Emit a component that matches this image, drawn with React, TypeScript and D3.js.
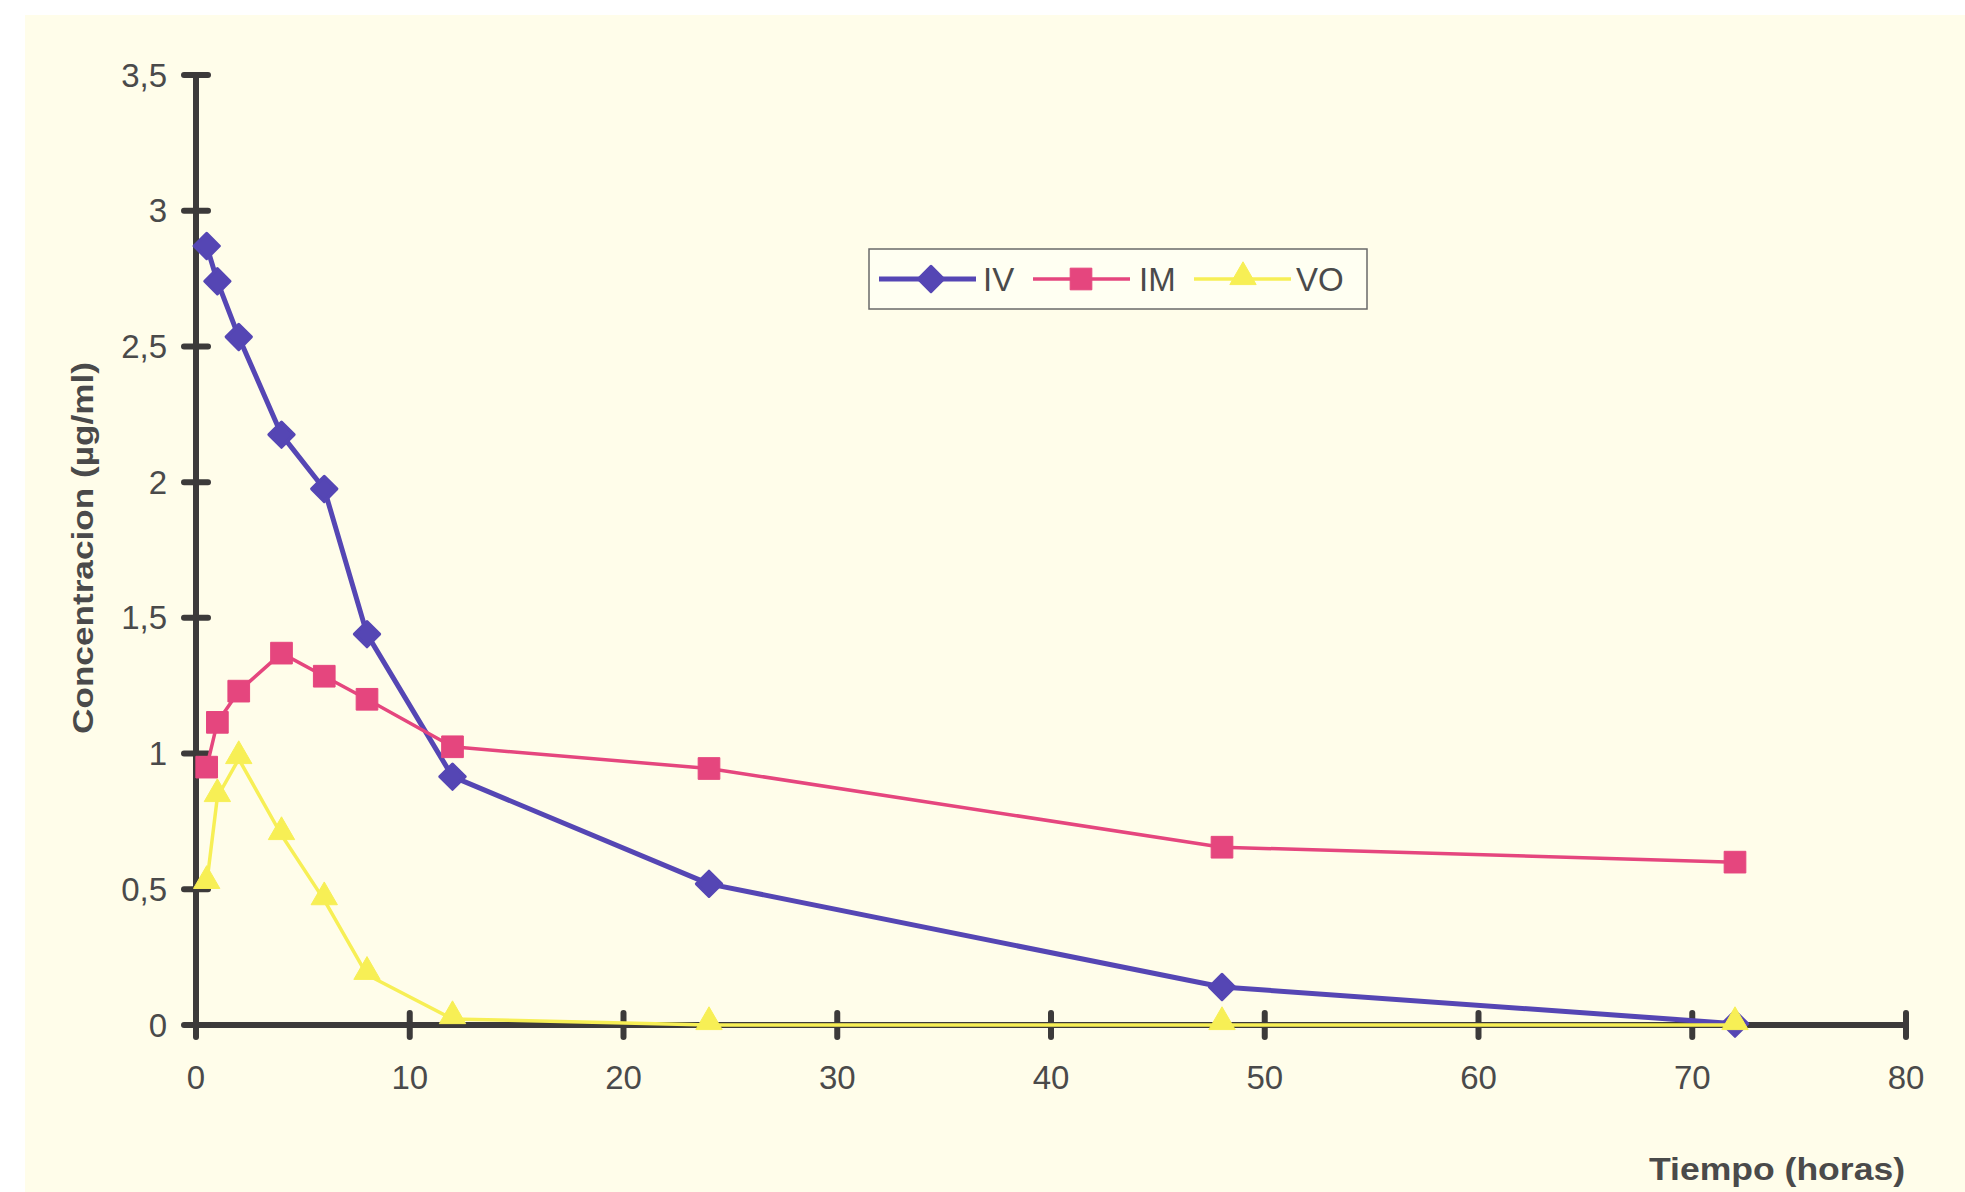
import React from "react";
import * as d3 from "d3";

const times = [0.5, 1, 2, 4, 6, 8, 12, 24, 48, 72];
const ivValues = [2.87, 2.74, 2.535, 2.175, 1.975, 1.44, 0.915, 0.52, 0.14, 0.005];
const imValues = [0.95, 1.115, 1.23, 1.37, 1.285, 1.2, 1.025, 0.945, 0.655, 0.6];
const voValues = [0.52, 0.84, 0.98, 0.7, 0.46, 0.185, 0.022, 0, 0, 0];

const xTicks = [0, 10, 20, 30, 40, 50, 60, 70, 80];
const yTicks = [0, 0.5, 1, 1.5, 2, 2.5, 3, 3.5];

const seriesNames = ["IV", "IM", "VO"];
const seriesColors = ["#5546b4", "#e5467e", "#f7ef55"];
const seriesWidths = [5, 3.5, 3.5];

const W = 1965;
const H = 1192;

const locale = d3.formatLocale({ decimal: ",", thousands: ".", grouping: [3], currency: ["", "€"] });
const fmt = locale.format("~g");

function markerPath(i: number) {
  if (i === 0) return d3.symbol(d3.symbolSquare, 320)() as string;
  if (i === 1) return d3.symbol(d3.symbolSquare, 470)() as string;
  return d3.symbol(d3.symbolTriangle, 300)() as string;
}

export default function App() {
  const x = d3.scaleLinear().domain([0, 80]).range([196, 1906]);
  const y = d3.scaleLinear().domain([0, 3.5]).range([1025, 75]);
  const series = [ivValues, imValues, voValues];
  const line = d3
    .line<number>()
    .x((_, i) => x(times[i]))
    .y((v) => y(v));

  const axisColor = "#3c3a3a";
  const textColor = "#4a4a4a";

  const legendItems = [
    { lx1: 879, lx2: 976, mx: 931, tx: 983 },
    { lx1: 1033, lx2: 1130, mx: 1081, tx: 1139 },
    { lx1: 1194, lx2: 1291, mx: 1243, tx: 1296 },
  ];
  const legendY = 279;

  return (
    <svg
      width={W}
      height={H}
      style={{ position: "absolute", left: 0, top: 0, display: "block" }}
      fontFamily="'Liberation Sans', Arial, sans-serif"
    >
      <rect x={0} y={0} width={W} height={H} fill="#ffffff" />
      <rect x={25} y={15} width={W - 25} height={H - 15} fill="#fffdea" />

      {/* axes */}
      <line x1={x(0)} x2={x(80)} y1={y(0)} y2={y(0)} stroke={axisColor} strokeWidth={6} />
      <line x1={x(0)} x2={x(0)} y1={y(0)} y2={y(3.5)} stroke={axisColor} strokeWidth={6} />
      {yTicks.map((t) => (
        <g key={"y" + t}>
          <line
            x1={x(0) - 12}
            x2={x(0) + 12}
            y1={y(t)}
            y2={y(t)}
            stroke={axisColor}
            strokeWidth={6}
            strokeLinecap="round"
          />
          <text
            x={167}
            y={y(t)}
            textAnchor="end"
            dominantBaseline="central"
            fontSize={33}
            fill={textColor}
          >
            {fmt(t)}
          </text>
        </g>
      ))}
      {xTicks.map((t) => (
        <g key={"x" + t}>
          <line
            x1={x(t)}
            x2={x(t)}
            y1={y(0) - 12}
            y2={y(0) + 12}
            stroke={axisColor}
            strokeWidth={6}
            strokeLinecap="round"
          />
          <text x={x(t)} y={1089} textAnchor="middle" fontSize={33} fill={textColor}>
            {fmt(t)}
          </text>
        </g>
      ))}

      {/* axis titles */}
      <text
        transform="translate(93,548) rotate(-90)"
        textAnchor="middle"
        fontSize={30}
        fontWeight="bold"
        fill={textColor}
        textLength={372}
        lengthAdjust="spacingAndGlyphs"
      >
        Concentracion (µg/ml)
      </text>
      <text
        x={1905}
        y={1180}
        textAnchor="end"
        fontSize={32}
        fontWeight="bold"
        fill={textColor}
        textLength={256}
        lengthAdjust="spacingAndGlyphs"
      >
        Tiempo (horas)
      </text>

      {/* series */}
      {series.map((vals, si) => (
        <g key={seriesNames[si]}>
          <path
            d={line(vals) as string}
            fill="none"
            stroke={seriesColors[si]}
            strokeWidth={seriesWidths[si]}
            strokeLinejoin="round"
          />
          {vals.map((v, i) => (
            <path
              key={i}
              d={markerPath(si)}
              transform={`translate(${x(times[i])},${y(v) - (si === 2 ? 3 : 0)})${si === 0 ? " rotate(45)" : ""}`}
              fill={seriesColors[si]}
              stroke={seriesColors[si]}
              strokeWidth={si === 0 ? 3 : 1}
              strokeLinejoin="round"
            />
          ))}
        </g>
      ))}

      {/* legend */}
      <rect x={869} y={249} width={498} height={60} fill="#fffff2" stroke="#6a6a6a" strokeWidth={1.5} />
      {legendItems.map((it, si) => (
        <g key={"leg" + si}>
          <line
            x1={it.lx1}
            x2={it.lx2}
            y1={legendY}
            y2={legendY}
            stroke={seriesColors[si]}
            strokeWidth={seriesWidths[si]}
          />
          <path
            d={markerPath(si)}
            transform={`translate(${it.mx},${legendY - (si === 2 ? 2 : 0)})${si === 0 ? " rotate(45)" : ""}`}
            fill={seriesColors[si]}
            stroke={seriesColors[si]}
            strokeWidth={si === 0 ? 3 : 1}
            strokeLinejoin="round"
          />
          <text x={it.tx} y={legendY} dominantBaseline="central" fontSize={33} fill={textColor}>
            {seriesNames[si]}
          </text>
        </g>
      ))}
    </svg>
  );
}
